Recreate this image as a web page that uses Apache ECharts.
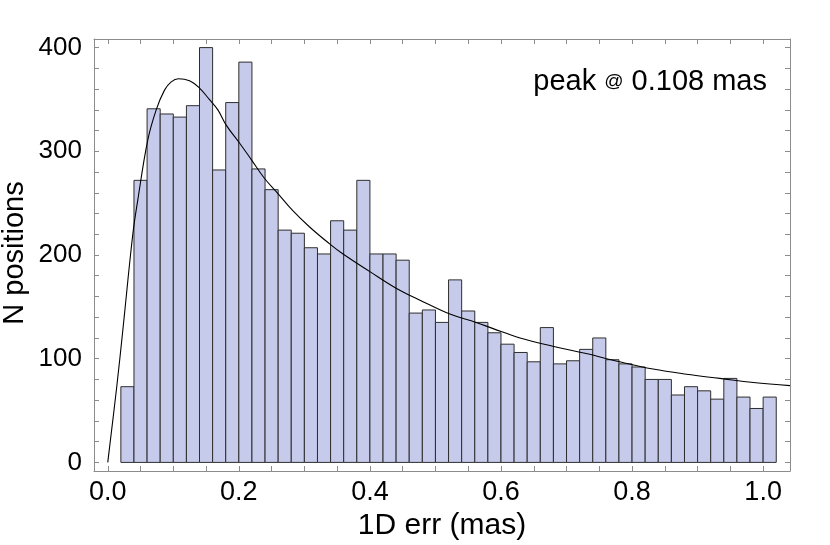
<!DOCTYPE html>
<html>
<head>
<meta charset="utf-8">
<script src="https://cdn.jsdelivr.net/npm/echarts@6/dist/echarts.min.js"></script>
<style>html,body{margin:0;padding:0;background:#fff;}#c{width:830px;height:545px;}</style>
</head>
<body>
<div id="c"></div>
<script>
// Histogram bins (left edges, width 0.02)
const binLefts = [0.02,0.04,0.06,0.08,0.10,0.12,0.14,0.16,0.18,0.20,
  0.22,0.24,0.26,0.28,0.30,0.32,0.34,0.36,0.38,0.40,
  0.42,0.44,0.46,0.48,0.50,0.52,0.54,0.56,0.58,0.60,
  0.62,0.64,0.66,0.68,0.70,0.72,0.74,0.76,0.78,0.80,
  0.82,0.84,0.86,0.88,0.90,0.92,0.94,0.96,0.98,1.00];
const binWidth = 0.02;
const counts = [73,272,341,336,333,344,400,282,347,386,
  283,263,224,221,207,201,233,224,272,201,
  201,195,144,147,135,176,146,135,125,114,
  106,97,130,95,98,109,120,99,95,92,
  80,80,65,73,69,61,81,63,52,63];
// Fitted curve
const curveX = [0,0.0137,0.0229,0.0382,0.0458,0.0611,0.0739,0.0866,0.0968,0.108,0.1247,0.140,0.155,0.168,0.181,0.201,0.219,0.239,0.260,0.282,0.308,0.338,0.359,0.400,0.440,0.481,0.522,0.562,0.588,0.629,0.679,0.730,0.781,0.832,0.883,0.934,0.985,1.041];
const curveY = [0,73,127,220,253,311,340,359,367,370,368,361,350,340,325,308,292,274,259,243,227,211,201,184,168,155,143,135,129,120,112,105,97,90,85,81,77,74];
// Ticks
const xTickLabels = [0,0.2,0.4,0.6,0.8,1.0];
const xTicks = [0,0.05,0.1,0.15,0.2,0.25,0.3,0.35,0.4,0.45,0.5,0.55,0.6,0.65,0.7,0.75,0.8,0.85,0.9,0.95,1.0];
const yTickLabels = [0,100,200,300,400];
const yTicks = [0,20,40,60,80,100,120,140,160,180,200,220,240,260,280,300,320,340,360,380,400];

const chart = echarts.init(document.getElementById('c'));
const FONT = 'Liberation Sans';
const frameColor = '#8c8c8c';
const xMin = -0.021, xMax = 1.041, yMin = -8.3, yMax = 408.3;

function xAxisDef(pos, showLabel) {
  return {
    type: 'value', position: pos, min: xMin, max: xMax,
    axisLine: { show: true, onZero: false, lineStyle: { color: frameColor, width: 1 } },
    axisTick: { show: true, inside: true, length: 5, customValues: xTicks, lineStyle: { color: frameColor } },
    axisLabel: { show: showLabel, customValues: xTickLabels, formatter: v => v.toFixed(1),
      color: '#000', fontFamily: FONT, fontSize: 27, margin: 8 },
    splitLine: { show: false },
    name: showLabel ? '1D err (mas)' : '', nameLocation: 'middle', nameGap: 38,
    nameTextStyle: { color: '#000', fontFamily: FONT, fontSize: 30 }
  };
}
function yAxisDef(pos, showLabel) {
  return {
    type: 'value', position: pos, min: yMin, max: yMax,
    axisLine: { show: true, onZero: false, lineStyle: { color: frameColor, width: 1 } },
    axisTick: { show: true, inside: true, length: 5, customValues: yTicks, lineStyle: { color: frameColor } },
    axisLabel: { show: showLabel, customValues: yTickLabels, color: '#000', fontFamily: FONT, fontSize: 26, margin: 12 },
    splitLine: { show: false }
  };
}

const barData = binLefts.map((x, i) => [x, x + binWidth, counts[i]]);
const curveData = curveX.map((x, i) => [x, curveY[i]]);

chart.setOption({
  animation: false,
  grid: { left: 94, right: 40, top: 39, bottom: 74, containLabel: false, outerBoundsMode: 'none' },
  xAxis: [xAxisDef('bottom', true), xAxisDef('top', false)],
  yAxis: [yAxisDef('left', true), yAxisDef('right', false)],
  title: {
    text: '{a|peak }{b|@}{a| 0.108 mas}',
    right: 58, top: 62,
    textStyle: { fontWeight: 'normal', rich: {
      a: { fontFamily: FONT, fontSize: 29, fontWeight: 'normal', color: '#000' },
      b: { fontFamily: FONT, fontSize: 19, fontWeight: 'normal', color: '#000' }
    } }
  },
  graphic: [{
    type: 'text', x: 15, y: 253, rotation: Math.PI / 2,
    style: { text: 'N positions', fontFamily: FONT, fontSize: 29, fill: '#000', align: 'center', verticalAlign: 'middle' }
  }],
  series: [
    {
      type: 'custom', xAxisIndex: 0, yAxisIndex: 0,
      data: barData,
      encode: { x: [0, 1], y: 2 },
      renderItem: function (params, api) {
        const p0 = api.coord([api.value(0), 0]);
        const p1 = api.coord([api.value(1), api.value(2)]);
        return {
          type: 'rect',
          shape: { x: p0[0], y: p1[1], width: p1[0] - p0[0], height: p0[1] - p1[1] },
          style: { fill: '#c7cbeb', stroke: '#2e2e2e', lineWidth: 1 }
        };
      }
    },
    {
      type: 'line', xAxisIndex: 0, yAxisIndex: 0,
      data: curveData, smooth: 0.4, showSymbol: false, symbol: 'none',
      lineStyle: { color: '#000', width: 1.1 }, z: 5
    }
  ]
});
</script>
</body>
</html>
